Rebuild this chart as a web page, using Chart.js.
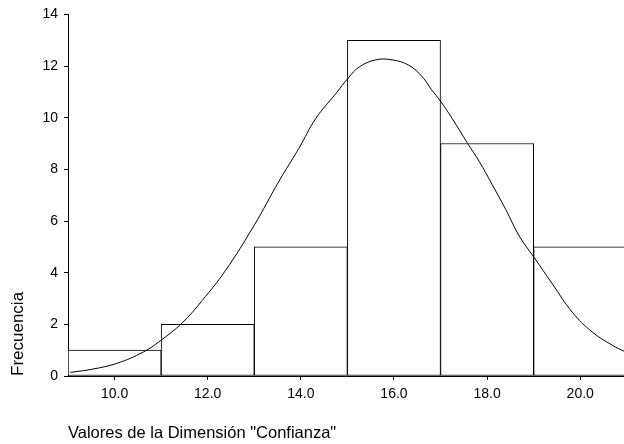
<!DOCTYPE html>
<html>
<head>
<meta charset="utf-8">
<script src="https://cdn.jsdelivr.net/npm/chart.js@4/dist/chart.umd.min.js"></script>
<style>
  html, body { margin: 0; padding: 0; background: #ffffff; }
  #wrap { width: 624px; height: 444px; position: relative; }
</style>
</head>
<body>
<div id="wrap"><canvas id="c"></canvas></div>
<script>
// Histogram bins (midpoints) and frequencies
const binMidpoints = [10, 12, 14, 16, 18, 20];
const frequencies = [1, 2, 5, 13, 9, 5];

// Normal curve
const curveX = [9.05, 9.51, 10.05, 10.62, 10.98, 11.45, 11.88, 12.38, 12.99, 13.53, 13.96, 14.32, 14.75, 15.02, 15.25, 15.61, 15.96, 16.32, 16.61, 16.8, 17.0, 17.25, 17.58, 17.83, 18.11, 18.4, 18.69, 19.01, 19.4, 19.83, 20.26, 20.69, 20.95];
const curveY = [0.14, 0.26, 0.49, 0.93, 1.36, 2.05, 2.92, 4.08, 5.81, 7.54, 8.82, 9.97, 10.93, 11.54, 11.96, 12.24, 12.24, 12.03, 11.58, 11.1, 10.64, 9.97, 9.01, 8.31, 7.41, 6.45, 5.42, 4.59, 3.57, 2.47, 1.70, 1.19, 0.95];

// Axis ticks
const xTickValues = [10, 12, 14, 16, 18, 20];
const xTickLabels = ["10.0", "12.0", "14.0", "16.0", "18.0", "20.0"];
const yTickValues = [0, 2, 4, 6, 8, 10, 12, 14];

const xTitle = 'Valores de la Dimensión "Confianza"';
const yTitle = 'Frecuencia';

const barData = binMidpoints.map((m, i) => ({ x: m, y: frequencies[i] }));
const curveData = curveX.map((x, i) => ({ x: x, y: curveY[i] }));

const tickFont = { family: "'Liberation Sans', Arial, sans-serif", size: 14 };
const xTitleFont = { family: "'Liberation Sans', Arial, sans-serif", size: 16.5 };
const yTitleFont = { family: "'Liberation Sans', Arial, sans-serif", size: 17 };

new Chart(document.getElementById('c'), {
  type: 'bar',
  data: {
    datasets: [
      {
        type: 'line',
        data: curveData,
        borderColor: '#000000',
        borderWidth: 1,
        pointRadius: 0,
        fill: false,
        tension: 0.4,
        order: 0
      },
      {
        type: 'bar',
        data: barData,
        backgroundColor: '#ffffff',
        borderColor: '#000000',
        borderWidth: 1,
        borderSkipped: false,
        barPercentage: 1,
        categoryPercentage: 1,
        order: 1
      }
    ]
  },
  options: {
    responsive: true,
    maintainAspectRatio: false,
    animation: false,
    layout: { padding: { top: 12, right: 0, bottom: 0, left: 0 } },
    plugins: { legend: { display: false }, tooltip: { enabled: false } },
    scales: {
      x: {
        type: 'linear',
        min: 9,
        max: 20.94,
        offset: false,
        afterBuildTicks: (s) => { s.ticks = xTickValues.map(v => ({ value: v })); },
        afterFit: (s) => { s.height = 68; },
        ticks: {
          color: '#000000',
          font: tickFont,
          padding: 6,
          maxRotation: 0,
          callback: (v) => { const i = xTickValues.indexOf(v); return i >= 0 ? xTickLabels[i] : ''; }
        },
        grid: { offset: false, drawOnChartArea: false, drawTicks: true, tickLength: 4, color: '#000000' },
        border: { display: true, color: '#000000', width: 1 },
        title: { display: true, text: xTitle, align: 'start', color: '#000000', font: xTitleFont, padding: { top: 0, bottom: 1 } }
      },
      y: {
        type: 'linear',
        min: 0,
        max: 14,
        afterBuildTicks: (s) => { s.ticks = yTickValues.map(v => ({ value: v })); },
        afterFit: (s) => { s.width = 68; },
        ticks: { color: '#000000', font: tickFont, padding: 6 },
        grid: { drawOnChartArea: false, drawTicks: true, tickLength: 4, color: '#000000' },
        border: { display: true, color: '#000000', width: 1 },
        title: { display: true, text: yTitle, align: 'start', color: '#000000', font: yTitleFont, padding: { top: 8, bottom: 0 } }
      }
    }
  }
});
</script>
</body>
</html>
